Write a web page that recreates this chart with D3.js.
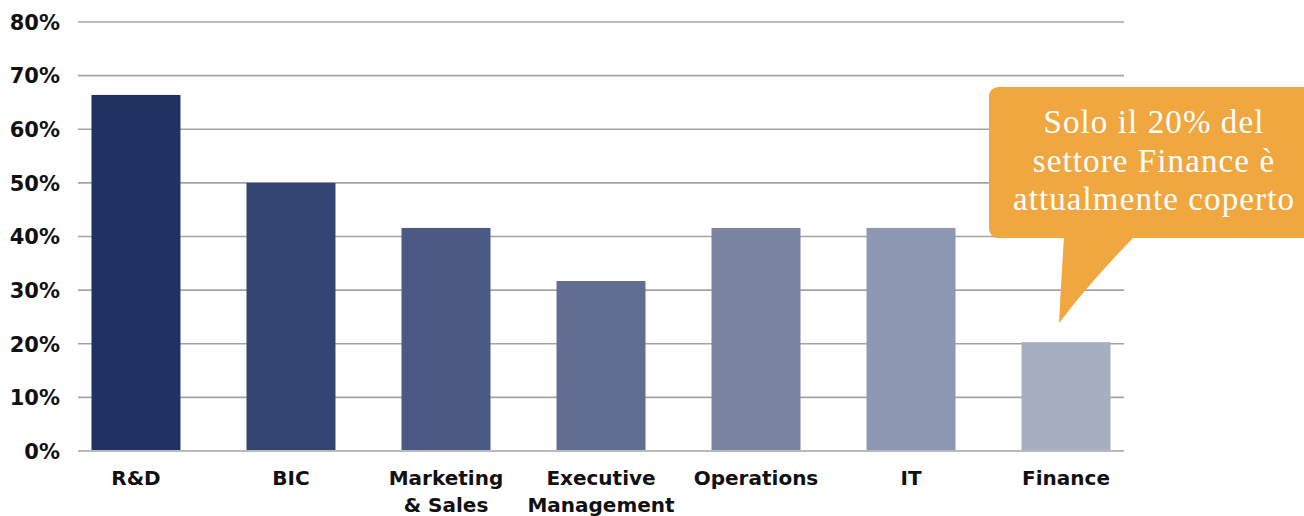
<!DOCTYPE html>
<html>
<head>
<meta charset="utf-8">
<script src="https://cdn.jsdelivr.net/npm/d3@7"></script>
<style>
  body { margin: 0; background: #fff; }
  svg { display: block; }
</style>
</head>
<body>
<div id="chart"></div>
<script>
// chart data
const categories = ["R&D", "BIC", "Marketing\n& Sales", "Executive\nManagement", "Operations", "IT", "Finance"];
const values = [66.4, 50.0, 41.6, 31.7, 41.6, 41.6, 20.3];
const barColors = ["#203261", "#354571", "#4a5a84", "#626e90", "#7a84a1", "#8e98b2", "#a6aec2"];
const yTicks = [0, 10, 20, 30, 40, 50, 60, 70, 80];
const calloutLines = ["Solo il 20% del", "settore Finance è", "attualmente coperto"];

const width = 1304, height = 516;
const margin = { top: 22, right: 180, bottom: 65, left: 78 };
const labelFont = '"DejaVu Sans", sans-serif';

const svg = d3.select('#chart').append('svg')
    .attr('width', width)
    .attr('height', height);

const x = d3.scaleBand()
    .domain(categories)
    .range([margin.left, width - margin.right])
    .paddingInner(0.426)
    .paddingOuter(0.087);

const y = d3.scaleLinear()
    .domain([0, 80])
    .range([height - margin.bottom, margin.top]);

// gridlines
svg.append('g')
    .selectAll('line')
    .data(yTicks)
    .join('line')
    .attr('x1', margin.left)
    .attr('x2', width - margin.right)
    .attr('y1', d => y(d))
    .attr('y2', d => y(d))
    .attr('stroke', '#a3a3a3')
    .attr('stroke-width', 1.6);

// y axis labels
const yAxis = d3.axisLeft(y)
    .tickValues(yTicks)
    .tickFormat(d => d + '%')
    .tickSize(0)
    .tickPadding(18);

svg.append('g')
    .attr('transform', `translate(${margin.left},0)`)
    .call(yAxis)
    .call(g => g.select('.domain').remove())
    .selectAll('text')
    .attr('font-family', labelFont)
    .attr('font-weight', 700)
    .attr('font-size', 21)
    .attr('fill', '#111')
    .attr('dy', '0.35em');

// bars
svg.append('g')
    .selectAll('rect')
    .data(categories)
    .join('rect')
    .attr('x', d => x(d))
    .attr('width', x.bandwidth())
    .attr('y', (d, i) => y(values[i]))
    .attr('height', (d, i) => y(0) - y(values[i]) - 1)
    .attr('fill', (d, i) => barColors[i]);

// x labels (second line runs off the bottom edge, as in the original)
const xLabels = svg.append('g')
    .selectAll('text')
    .data(categories)
    .join('text')
    .attr('x', d => x(d) + x.bandwidth() / 2)
    .attr('y', 485)
    .attr('text-anchor', 'middle')
    .attr('font-family', labelFont)
    .attr('font-weight', 700)
    .attr('font-size', 20)
    .attr('fill', '#111');

xLabels.selectAll('tspan')
    .data(d => d.split('\n'))
    .join('tspan')
    .attr('x', function () { return this.parentNode.getAttribute('x'); })
    .attr('dy', (d, i) => i === 0 ? 0 : 27)
    .text(d => d);

// callout bubble pointing at Finance bar
const fin = categories[categories.length - 1];
const tipX = x(fin) + x.bandwidth() / 2 - 7;
const tipY = y(values[values.length - 1]) - 19;
const bx = 989, by = 87, bw = 330, bh = 151, r = 9;

const bubble = svg.append('g');
bubble.append('rect')
    .attr('x', bx).attr('y', by)
    .attr('width', bw).attr('height', bh)
    .attr('rx', r)
    .attr('fill', '#f0a73f');

bubble.append('path')
    .attr('d', `M${tipX + 5},${by + bh - 1} L${tipX + 75},${by + bh - 1} Q${tipX + 30},${tipY - 40} ${tipX},${tipY} Q${tipX + 2},${tipY - 40} ${tipX + 5},${by + bh - 1} Z`)
    .attr('fill', '#f0a73f');

bubble.append('text')
    .attr('x', 1154)
    .attr('y', 133)
    .attr('text-anchor', 'middle')
    .attr('font-family', '"Liberation Serif", serif')
    .attr('font-size', 33)
    .attr('letter-spacing', 1.1)
    .attr('fill', '#fff')
    .selectAll('tspan')
    .data(calloutLines)
    .join('tspan')
    .attr('x', 1154)
    .attr('dy', (d, i) => i === 0 ? 0 : 38.5)
    .text(d => d);
</script>
</body>
</html>
